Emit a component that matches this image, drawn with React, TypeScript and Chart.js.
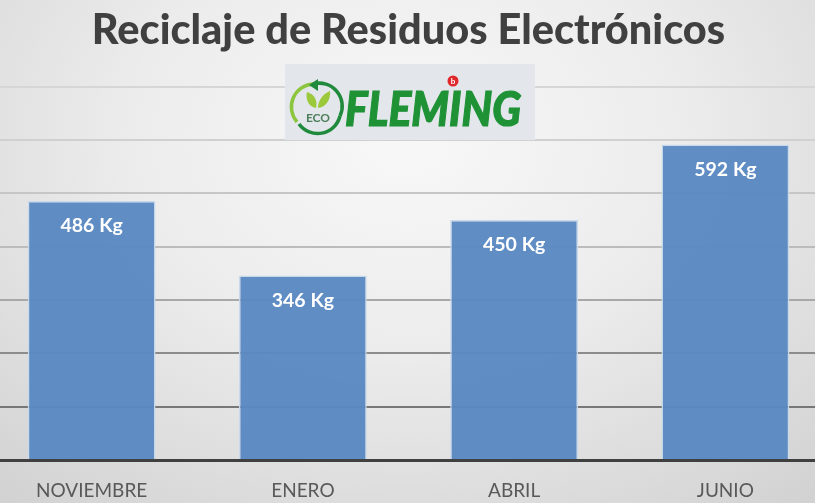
import React, { useEffect, useRef } from "react";
import { Chart, registerables } from "chart.js";

Chart.register(...registerables);

const categories = ["NOVIEMBRE", "ENERO", "ABRIL", "JUNIO"];
const kilos = [486, 346, 450, 592];
const chartTitle = "Reciclaje de Residuos Electrónicos";
const unit = "Kg";

const gridColors: Record<number, string> = {
  0: "rgba(0,0,0,0)",
  100: "#777777",
  200: "#8c8c8c",
  300: "#a8a8a8",
  400: "#bcbcbc",
  500: "#c6c6c6",
  600: "#d0d0d0",
  700: "#d6d6d6",
};

const valueLabels = {
  id: "valueLabels",
  afterDatasetsDraw(chart: any) {
    const { ctx } = chart;
    const meta = chart.getDatasetMeta(0);
    ctx.save();
    ctx.font = "700 19.5px Lato";
    ctx.fillStyle = "#ffffff";
    ctx.textAlign = "center";
    ctx.textBaseline = "middle";
    meta.data.forEach((bar: any, i: number) => {
      ctx.fillText(`${kilos[i]} ${unit}`, bar.x, bar.y + 25);
    });
    ctx.restore();
  },
};

function Logo() {
  return (
    <svg
      width={250}
      height={76}
      viewBox="0 0 250 76"
      style={{ position: "absolute", left: 285, top: 64, filter: "blur(0.6px)" }}
    >
      <rect width={250} height={76} fill="#e3e6eb" />
      <path d="M 12 58 A 23 23 0 0 1 28 20" fill="none" stroke="#8cc63f" strokeWidth={3.5} />
      <path d="M 28 20 A 23 23 0 0 1 55 52" fill="none" stroke="#1f8a3c" strokeWidth={3.5} />
      <path d="M 55 52 A 23 23 0 0 1 14 60" fill="none" stroke="#1f8a3c" strokeWidth={3.5} />
      <path d="M 24 21 L 33 15 L 33 27 Z" fill="#1f8a3c" />
      <path d="M 32 42 C 22 40 22 30 23 26 C 30 28 34 34 32 42 Z" fill="#9cc93c" transform="translate(-1,2)" />
      <path d="M 33 42 C 33 34 38 28 45 25 C 46 32 42 41 33 42 Z" fill="#9cc93c" transform="translate(0,2)" />
      <text
        x={33}
        y={58}
        textAnchor="middle"
        fontFamily="Lato"
        fontWeight={700}
        fontSize={12}
        fill="#4d7f5a"
      >
        ECO
      </text>
      <text
        x={60}
        y={62}
        fontFamily="Lato"
        fontWeight={900}
        fontStyle="italic"
        fontSize={47}
        fill="#1f9236"
        stroke="#1f9236"
        strokeWidth={1.2}
        textLength={176}
        lengthAdjust="spacingAndGlyphs"
      >
        FLEMING
      </text>
      <circle cx={168} cy={17} r={5.5} fill="#e0272c" />
      <text x={168} y={20} textAnchor="middle" fontFamily="Lato" fontWeight={700} fontSize={8} fill="#ffffff">
        b
      </text>
    </svg>
  );
}

export default function App() {
  const canvasRef = useRef<HTMLCanvasElement | null>(null);

  useEffect(() => {
    document.body.style.margin = "0";
    const chart = new Chart(canvasRef.current as HTMLCanvasElement, {
      type: "bar",
      data: {
        labels: categories,
        datasets: [
          {
            data: kilos,
            backgroundColor: "rgba(90,136,194,0.96)",
            borderColor: "#c9d9ec",
            borderWidth: 1.5,
            barPercentage: 0.605,
            categoryPercentage: 1,
          },
        ],
      },
      options: {
        animation: false,
        responsive: false,
        layout: { padding: 0 },
        plugins: {
          legend: { display: false },
          tooltip: { enabled: false },
          title: {
            display: true,
            text: chartTitle,
            color: "#404040",
            font: { family: "Lato", size: 41.5, weight: 900 },
            padding: { top: 6, bottom: 31 },
          },
        },
        scales: {
          x: {
            grid: { display: false },
            border: { display: true, color: "#404040", width: 3 },
            afterFit(scale: any) {
              scale.height = 43;
            },
            ticks: {
              color: "#595959",
              font: { family: "Lato", size: 19 },
              padding: 11,
              maxRotation: 0,
            },
          },
          y: {
            min: 0,
            max: 700,
            afterFit(scale: any) {
              scale.width = 0;
            },
            border: { display: false },
            ticks: { display: false, stepSize: 100 },
            grid: {
              drawTicks: false,
              lineWidth: 2,
              color: (ctx: any) => gridColors[ctx.tick.value] ?? "#cccccc",
            },
          },
        },
      },
      plugins: [valueLabels],
    });
    return () => chart.destroy();
  }, []);

  return (
    <div
      style={{
        position: "absolute",
        left: 0,
        top: 0,
        width: 815,
        height: 503,
        overflow: "hidden",
        background:
          "radial-gradient(ellipse 620px 470px at 50% 28%, #f8f8f8 0%, #ececec 45%, #d2d2d2 100%)",
      }}
    >
      <canvas
        ref={canvasRef}
        width={845}
        height={503}
        style={{ position: "absolute", left: -14, top: 0, filter: "blur(0.4px)" }}
      />
      <Logo />
    </div>
  );
}
